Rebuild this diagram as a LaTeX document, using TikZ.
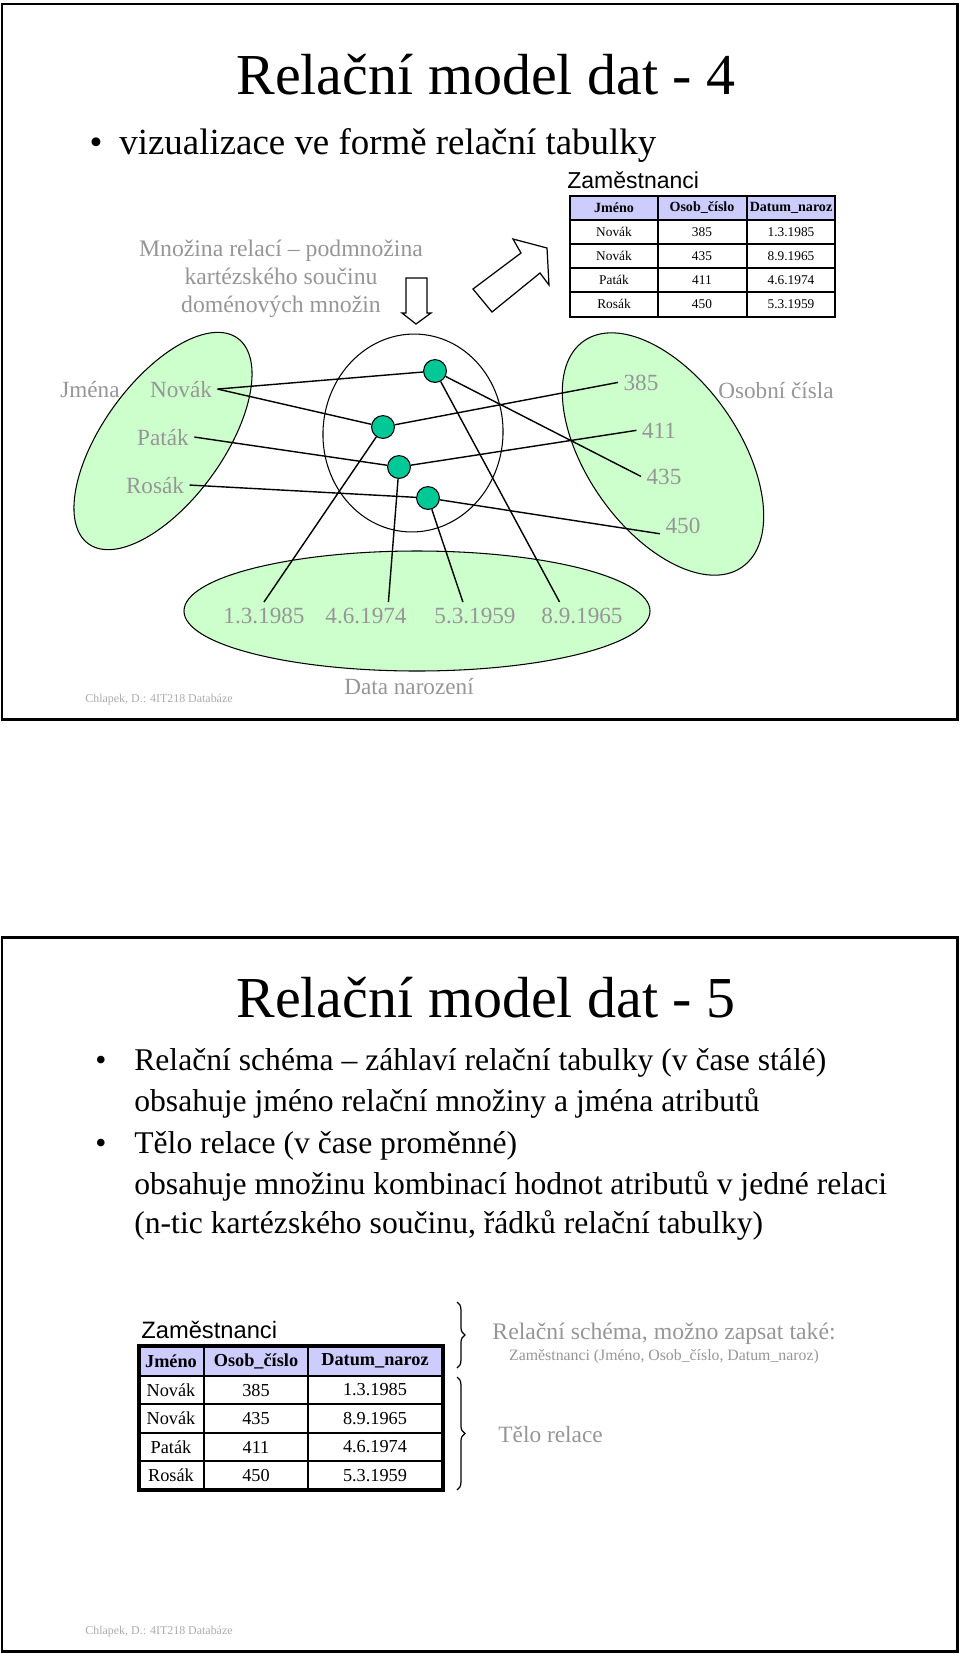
\documentclass[tikz,border=0pt]{standalone}
\usepackage{fontspec}
\setmainfont{Liberation Serif}
\setsansfont{Liberation Sans}
\usetikzlibrary{decorations.pathreplacing}

\definecolor{verde}{RGB}{204,255,204}
\definecolor{lila}{RGB}{204,204,255}
\definecolor{gris}{RGB}{150,150,150}
\definecolor{turquesa}{RGB}{0,200,150}
\newcommand{\tam}[1]{\fontsize{#1}{#1}\selectfont}

\begin{document}
\begin{tikzpicture}[x=0.02cm, y=-0.02cm,
  titulo/.style={anchor=base, font=\tam{33}},
  texto/.style={anchor=base west, inner sep=0pt},
  etiq/.style={anchor=base, text=gris, font=\tam{13.2}, inner sep=3pt},
  conj/.style={fill=verde, draw=black, line width=0.6pt},
  tupla/.style={circle, fill=turquesa, draw=black, line width=0.6pt, minimum size=13pt, inner sep=0pt},
  enlace/.style={line width=0.8pt},
  celda/.style={inner sep=0pt, anchor=center},
  piepag/.style={anchor=base, text=gris!80, font=\tam{6.8}}]
  \useasboundingbox (0,0) rectangle (960,1654);

  % Marcos de las diapositivas
  \draw[line width=1.7pt] (2,4) rectangle (957,719);
  \draw[line width=1.7pt] (2,937) rectangle (957,1651);

  % ---------- Diapositiva 4 ----------
  \node[titulo] (tit4) at (486,94) {Relační model dat - 4};
  \node[anchor=base, font=\tam{21}] (bul4) at (96,154) {•};
  \node[texto, font=\tam{21}] (txt4) at (119,154) {vizualizace ve formě relační tabulky};

  % Texto gris
  \node[anchor=base, text=gris, font=\tam{13.5}] (mn1) at (281,256) {Množina relací – podmnožina};
  \node[anchor=base, text=gris, font=\tam{13.5}] (mn2) at (281,284) {kartézského součinu};
  \node[anchor=base, text=gris, font=\tam{13.5}] (mn3) at (281,312) {doménových množin};

  % Flechas huecas
  \draw[line width=0.7pt, fill=white] (406,278) -- (427,278) -- (427,313) -- (431,313)
    -- (416,324) -- (402,313) -- (406,313) -- cycle;
  \draw[line width=0.7pt, fill=white] (492,312) -- (473,289) -- (521,253) -- (513,239)
    -- (547,248) -- (549,285) -- (540,273) -- cycle;

  % Tabla Zaměstnanci (arriba)
  \node[texto, font=\sffamily\tam{13.1}] (zam4) at (567,188) {Zaměstnanci};
  \fill[lila] (570,196) rectangle (835,220);
  \foreach \y in {220,244,268,292} \draw[line width=0.8pt] (570,\y) -- (835,\y);
  \foreach \x in {658,747} \draw[line width=0.8pt] (\x,196) -- (\x,317);
  \draw[line width=1.6pt] (570,196) rectangle (835,317);
  \node[celda, font=\bfseries\tam{8}] (h4a) at (614,208) {Jméno};
  \node[celda, font=\bfseries\tam{8}] (h4b) at (702,208) {Osob\_číslo};
  \node[celda, font=\bfseries\tam{8}] (h4c) at (791,208) {Datum\_naroz};
  \foreach \a/\b/\c [count=\i] in {Novák/385/1.3.1985, Novák/435/8.9.1965,
      Paták/411/4.6.1974, Rosák/450/5.3.1959} {
    \node[celda, font=\tam{7.6}] (r4a\i) at (614,{208+24*\i}) {\a};
    \node[celda, font=\tam{7.6}] (r4b\i) at (702,{208+24*\i}) {\b};
    \node[celda, font=\tam{7.6}] (r4c\i) at (791,{208+24*\i}) {\c};
  }

  % Conjuntos (dominios)
  \draw[conj, rotate around={-36:(163,441)}] (163,441) ellipse [x radius=60, y radius=127];
  \draw[conj, rotate around={35:(663,454)}] (663,454) ellipse [x radius=76, y radius=138];
  \draw[conj] (417,611) ellipse [x radius=233, y radius=60];
  % Relación
  \draw[line width=0.6pt, rotate around={-4:(413,433)}] (413,433) ellipse [x radius=90, y radius=99];

  % Etiquetas
  \node[etiq] (jmena) at (90,397) {Jména};
  \node[etiq] (novak) at (181,397) {Novák};
  \node[etiq] (patak) at (163,445) {Paták};
  \node[etiq] (rosak) at (155,493) {Rosák};
  \node[etiq] (n385) at (641,390) {385};
  \node[etiq] (n411) at (659,438) {411};
  \node[etiq] (n435) at (664,484) {435};
  \node[etiq] (n450) at (683,533) {450};
  \node[etiq] (oscis) at (776,398) {Osobní čísla};
  \node[etiq] (d1985) at (264,623) {1.3.1985};
  \node[etiq] (d1974) at (366,623) {4.6.1974};
  \node[etiq] (d1959) at (475,623) {5.3.1959};
  \node[etiq] (d1965) at (582,623) {8.9.1965};
  \node[etiq] (datnar) at (409,694) {Data narození};

  % Prvky relace
  \node[tupla] (t1) at (435,371) {};
  \node[tupla] (t2) at (383,427) {};
  \node[tupla] (t3) at (399,467) {};
  \node[tupla] (t4) at (428,498) {};

  \draw[enlace] (novak.east) -- (t1);
  \draw[enlace] (novak.east) -- (t2);
  \draw[enlace] (patak.east) -- (t3);
  \draw[enlace] (rosak.east) -- (t4);
  \draw[enlace] (t2) -- (n385.west);
  \draw[enlace] (t3) -- (n411.west);
  \draw[enlace] (t1) -- (n435.west);
  \draw[enlace] (t4) -- (n450.200);
  \draw[enlace] (t2) -- (d1985.north);
  \draw[enlace] (t3) -- (d1974.31);
  \draw[enlace] (t4) -- (d1959.132);
  \draw[enlace] (t1) -- (d1965.149);

  \node[piepag] (pie4) at (159,702) {Chlapek, D.: 4IT218 Databáze};

  % ---------- Diapositiva 5 ----------
  \node[titulo] (tit5) at (486,1017) {Relační model dat - 5};
  \node[anchor=base, font=\tam{18}] (bul5a) at (101,1070) {•};
  \node[texto, font=\tam{18}] (l1) at (134,1070) {Relační schéma – záhlaví relační tabulky (v čase stálé)};
  \node[texto, font=\tam{18}] (l2) at (134,1111) {obsahuje jméno relační množiny a jména atributů};
  \node[anchor=base, font=\tam{18}] (bul5b) at (101,1153) {•};
  \node[texto, font=\tam{18}] (l3) at (134,1153) {Tělo relace (v čase proměnné)};
  \node[texto, font=\tam{18}] (l4) at (134,1194) {obsahuje množinu kombinací hodnot atributů v jedné relaci};
  \node[texto, font=\tam{18}] (l5) at (134,1233) {(n-tic kartézského součinu, řádků relační tabulky)};

  % Tabla Zaměstnanci (abajo)
  \node[texto, font=\sffamily\tam{13.5}] (zam5) at (141,1338) {Zaměstnanci};
  \fill[lila] (139,1346) rectangle (443,1376);
  \foreach \y in {1376,1404,1433,1461} \draw[line width=1pt] (139,\y) -- (443,\y);
  \foreach \x in {204,308} \draw[line width=1pt] (\x,1346) -- (\x,1490);
  \draw[line width=1.8pt] (139,1346) rectangle (443,1490);
  \node[celda, font=\bfseries\tam{10.4}] (h5a) at (171,1361) {Jméno};
  \node[celda, font=\bfseries\tam{10.4}] (h5b) at (256,1361) {Osob\_číslo};
  \node[celda, font=\bfseries\tam{10.4}] (h5c) at (375,1361) {Datum\_naroz};
  \foreach \a/\b/\c [count=\i] in {Novák/385/1.3.1985, Novák/435/8.9.1965,
      Paták/411/4.6.1974, Rosák/450/5.3.1959} {
    \node[celda, font=\tam{10.4}] (r5a\i) at (171,{1361.5+28.5*\i}) {\a};
    \node[celda, font=\tam{10.4}] (r5b\i) at (256,{1361.5+28.5*\i}) {\b};
    \node[celda, font=\tam{10.4}] (r5c\i) at (375,{1361.5+28.5*\i}) {\c};
  }

  % Llaves
  \draw[line width=0.7pt, decorate, decoration={brace, amplitude=4.5pt}] (457,1302) -- (457,1368);
  \draw[line width=0.7pt, decorate, decoration={brace, amplitude=4.5pt}] (457,1377) -- (457,1490);
  \node[anchor=base, text=gris, font=\tam{13.5}] (schema) at (664,1339) {Relační schéma, možno zapsat také:};
  \node[anchor=base, text=gris, font=\tam{9}] (zapis) at (664,1360) {Zaměstnanci (Jméno, Osob\_číslo, Datum\_naroz)};
  \node[texto, text=gris, font=\tam{13.3}] (telo) at (498,1442) {Tělo relace};

  \node[piepag] (pie5) at (159,1634) {Chlapek, D.: 4IT218 Databáze};
\end{tikzpicture}
\end{document}
